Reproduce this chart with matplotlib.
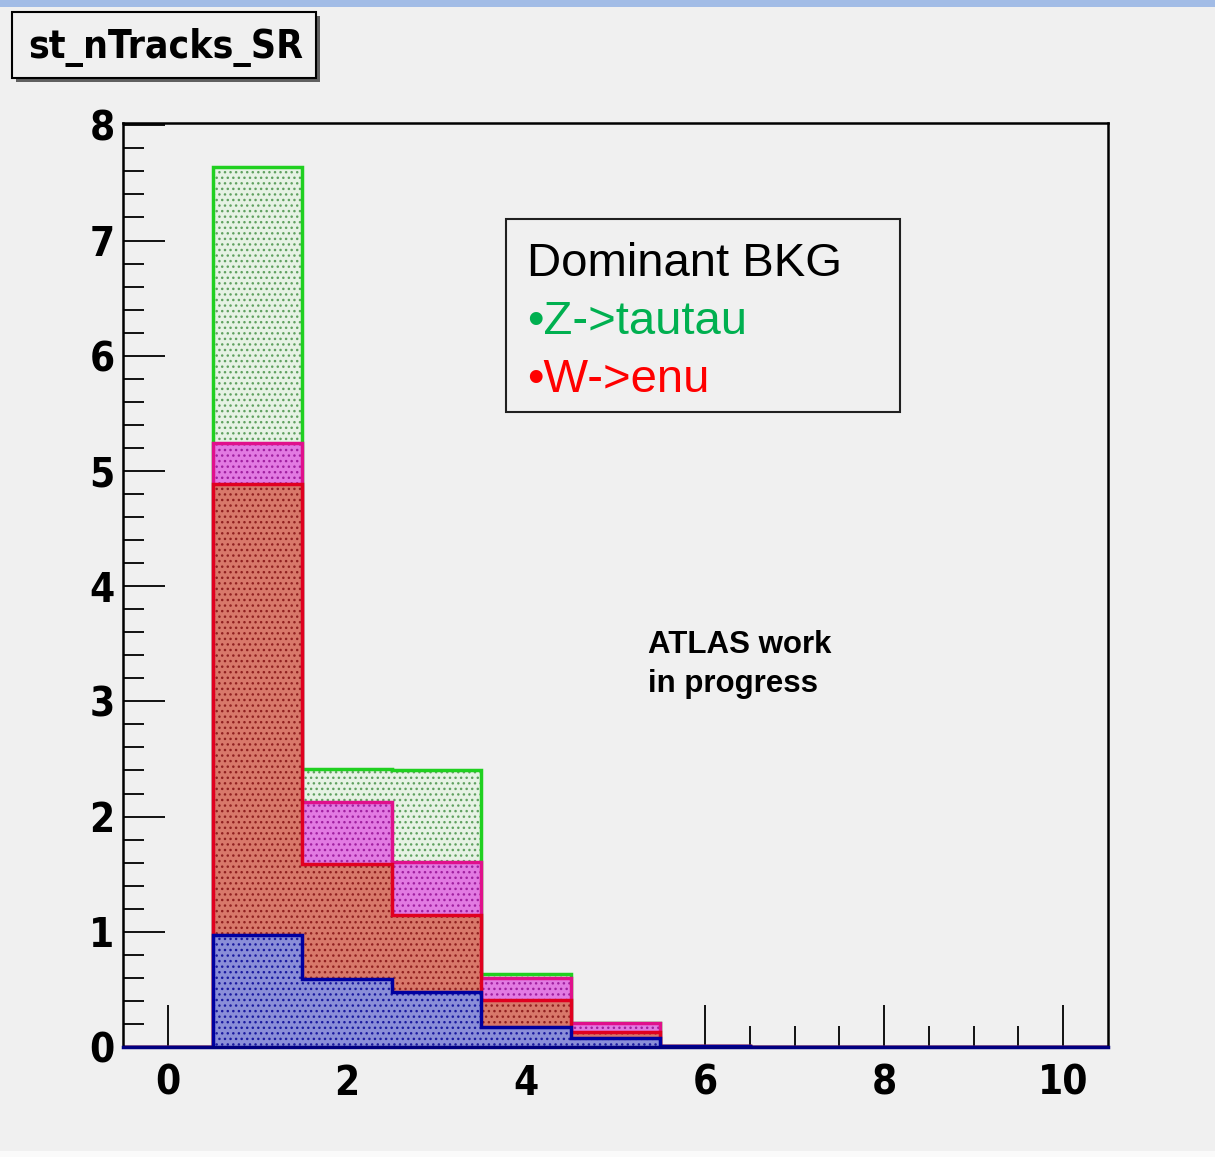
import numpy as np
import matplotlib.pyplot as plt
from matplotlib import font_manager
from matplotlib.patches import Rectangle

# bin edges: unit-wide bins centred on 0..10
edges = np.arange(-0.5, 11.0, 1.0)

# per-sample contents, bottom of the stack first
w_blue = [0, 0.97, 0.59, 0.48, 0.17, 0.08, 0.01, 0, 0, 0, 0]
w_red = [0, 3.92, 1.00, 0.67, 0.24, 0.05, 0, 0, 0, 0, 0]
w_magenta = [0, 0.35, 0.54, 0.46, 0.19, 0.08, 0, 0, 0, 0, 0]
z_green = [0, 2.40, 0.28, 0.79, 0.03, 0.0, 0, 0, 0, 0, 0]

x_ticks = [0, 2, 4, 6, 8, 10]
y_ticks = [0, 1, 2, 3, 4, 5, 6, 7, 8]

names = {f.name for f in font_manager.fontManager.ttflist}
sans = "Liberation Sans" if "Liberation Sans" in names else "DejaVu Sans"

# look for a narrow bold face for the axis labels and the title
narrow = None
for f in font_manager.fontManager.ttflist:
    tag = (f.name + " " + str(f.stretch)).lower()
    if ("narrow" in tag or "condensed" in tag) and "mono" not in tag:
        narrow = f.name
        narrow_stretch = f.stretch
        break
if narrow is None:
    narrow, narrow_stretch = sans, "normal"
    label_size, title_size = 26, 26
else:
    label_size, title_size = 29, 28

bg = "#f0f0f0"
fig = plt.figure(figsize=(12.15, 11.57), dpi=100, facecolor=bg)

# blue strip along the top and white strip at the bottom of the canvas
fig.patches.append(Rectangle((0, 1 - 7 / 1157), 1, 7 / 1157, transform=fig.transFigure,
                             facecolor="#a2bce6", edgecolor="none"))
fig.patches.append(Rectangle((0, 0), 1, 6 / 1157, transform=fig.transFigure,
                             facecolor="#fafafa", edgecolor="none"))

ax = fig.add_axes([123 / 1215, 1 - 1047 / 1157, (1108 - 123) / 1215, (1047 - 123) / 1157])
ax.set_facecolor(bg)
ax.set_axisbelow(True)

stack = np.cumsum([w_blue, w_red, w_magenta, z_green], axis=0)
styles = [
    ("#8a8ed8", "#1a1aa0", "#0000a0"),   # blue
    ("#d8786a", "#902020", "#e00020"),   # red
    ("#e27ae2", "#a020a0", "#e0108c"),   # magenta
    ("#e6f2e4", "#60a060", "#20d020"),   # green
]

# draw the stack from the top down so each lower total sits in front
for level in range(3, -1, -1):
    face, dots, line = styles[level]
    ax.stairs(stack[level], edges, baseline=0, fill=True, facecolor=face,
              edgecolor=dots, hatch="...", linewidth=0)
    ax.stairs(stack[level], edges, baseline=0, fill=False, color=line, linewidth=2.5)

ax.set_xlim(-0.5, 10.5)
ax.set_ylim(0, 8.02)

ax.set_xticks(x_ticks)
ax.set_xticks(np.arange(0, 10.01, 0.5), minor=True)
ax.set_yticks(y_ticks)
ax.set_yticks(np.arange(0, 8.01, 0.2), minor=True)
ax.tick_params(which="major", direction="in", length=30, width=1.3, color="black",
               top=False, right=False)
ax.tick_params(which="minor", direction="in", length=15, width=1.3, color="black",
               top=False, right=False)
ax.tick_params(axis="x", pad=12)
ax.tick_params(axis="y", pad=6)
for lab in ax.get_xticklabels() + ax.get_yticklabels():
    lab.set_fontfamily(narrow)
    lab.set_fontstretch(narrow_stretch)
    lab.set_fontweight("bold")
    lab.set_fontsize(label_size)

for side in ["left", "top", "right"]:
    ax.spines[side].set_linewidth(1.8)
    ax.spines[side].set_color("black")
ax.spines["bottom"].set_linewidth(2.5)
ax.spines["bottom"].set_color("#000080")

# histogram title box with drop shadow
fig.patches.append(Rectangle((16 / 1215, 1 - 82 / 1157), 304 / 1215, 66 / 1157,
                             transform=fig.transFigure, facecolor="#606060",
                             edgecolor="none"))
fig.patches.append(Rectangle((12 / 1215, 1 - 78 / 1157), 304 / 1215, 66 / 1157,
                             transform=fig.transFigure, facecolor=bg,
                             edgecolor="black", linewidth=1.5))
fig.text(28 / 1215, 1 - 58 / 1157, "st_nTracks_SR", fontfamily=narrow,
         fontstretch=narrow_stretch, fontweight="bold", fontsize=title_size,
         va="baseline", ha="left")

# legend-like annotation box
fig.patches.append(Rectangle((506 / 1215, 1 - 412 / 1157), 394 / 1215, 193 / 1157,
                             transform=fig.transFigure, facecolor=bg,
                             edgecolor="#202020", linewidth=1.5))
fig.text(527 / 1215, 1 - 276 / 1157, "Dominant BKG", fontfamily=sans, fontsize=34,
         color="black", va="baseline")
fig.text(527 / 1215, 1 - 334 / 1157, "\u2022Z->tautau", fontfamily=sans, fontsize=34,
         color="#00b050", va="baseline")
fig.text(527 / 1215, 1 - 392 / 1157, "\u2022W->enu", fontfamily=sans, fontsize=34,
         color="#ff0000", va="baseline")

fig.text(648 / 1215, 1 - 653 / 1157, "ATLAS work", fontfamily=sans, fontsize=22.5,
         fontweight="bold", va="baseline")
fig.text(648 / 1215, 1 - 692 / 1157, "in progress", fontfamily=sans, fontsize=22.5,
         fontweight="bold", va="baseline")

fig.savefig("out.png", dpi=100, facecolor=bg)
